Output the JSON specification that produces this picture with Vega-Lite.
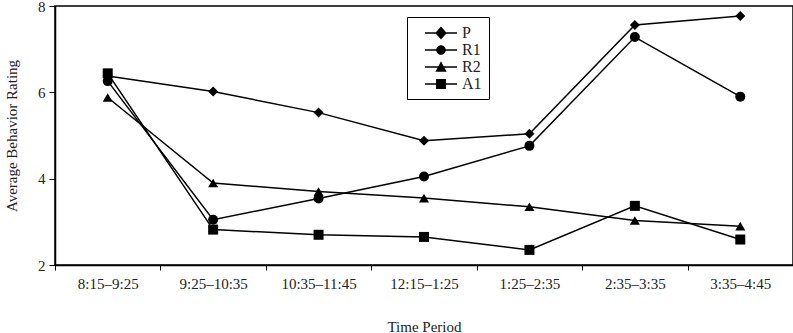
{
  "$schema": "https://vega.github.io/schema/vega-lite/v6.json",
  "width": 738,
  "height": 259,
  "autosize": "none",
  "padding": {"left": 55, "top": 6, "right": 0, "bottom": 68},
  "background": "white",
  "config": {
    "font": "Liberation Serif",
    "view": {"stroke": "black", "strokeWidth": 1.5},
    "axis": {
      "grid": false,
      "domainColor": "black",
      "domainWidth": 1.5,
      "tickColor": "black",
      "tickWidth": 1,
      "labelColor": "#222",
      "titleColor": "#222",
      "labelFont": "Liberation Serif",
      "titleFont": "Liberation Serif",
      "labelFontSize": 15,
      "titleFontSize": 15,
      "titleFontWeight": "normal"
    }
  },
  "data": {
    "values": [
      {"period": "8:15–9:25", "series": "P", "rating": 6.38},
      {"period": "9:25–10:35", "series": "P", "rating": 6.02},
      {"period": "10:35–11:45", "series": "P", "rating": 5.53},
      {"period": "12:15–1:25", "series": "P", "rating": 4.88},
      {"period": "1:25–2:35", "series": "P", "rating": 5.04},
      {"period": "2:35–3:35", "series": "P", "rating": 7.56},
      {"period": "3:35–4:45", "series": "P", "rating": 7.77},
      {"period": "8:15–9:25", "series": "R1", "rating": 6.26},
      {"period": "9:25–10:35", "series": "R1", "rating": 3.05},
      {"period": "10:35–11:45", "series": "R1", "rating": 3.54},
      {"period": "12:15–1:25", "series": "R1", "rating": 4.05},
      {"period": "1:25–2:35", "series": "R1", "rating": 4.76},
      {"period": "2:35–3:35", "series": "R1", "rating": 7.28},
      {"period": "3:35–4:45", "series": "R1", "rating": 5.9},
      {"period": "8:15–9:25", "series": "R2", "rating": 5.88},
      {"period": "9:25–10:35", "series": "R2", "rating": 3.9},
      {"period": "10:35–11:45", "series": "R2", "rating": 3.7},
      {"period": "12:15–1:25", "series": "R2", "rating": 3.55},
      {"period": "1:25–2:35", "series": "R2", "rating": 3.35},
      {"period": "2:35–3:35", "series": "R2", "rating": 3.03},
      {"period": "3:35–4:45", "series": "R2", "rating": 2.9},
      {"period": "8:15–9:25", "series": "A1", "rating": 6.44},
      {"period": "9:25–10:35", "series": "A1", "rating": 2.82},
      {"period": "10:35–11:45", "series": "A1", "rating": 2.7},
      {"period": "12:15–1:25", "series": "A1", "rating": 2.65},
      {"period": "1:25–2:35", "series": "A1", "rating": 2.35},
      {"period": "2:35–3:35", "series": "A1", "rating": 3.37},
      {"period": "3:35–4:45", "series": "A1", "rating": 2.59}
    ]
  },
  "encoding": {
    "x": {
      "field": "period",
      "type": "ordinal",
      "sort": ["8:15–9:25", "9:25–10:35", "10:35–11:45", "12:15–1:25", "1:25–2:35", "2:35–3:35", "3:35–4:45"],
      "scale": {"type": "band", "paddingInner": 0, "paddingOuter": 0},
      "axis": {"title": "Time Period", "labelAngle": 0, "tickBand": "extent", "tickSize": 5, "labelPadding": 6, "titlePadding": 28}
    },
    "y": {
      "field": "rating",
      "type": "quantitative",
      "scale": {"domain": [2, 8], "nice": false, "zero": false},
      "axis": {"title": "Average Behavior Rating", "values": [2, 4, 6, 8], "tickSize": 6, "labelPadding": 4, "titlePadding": 18}
    }
  },
  "layer": [
    {
      "mark": {"type": "line", "color": "black", "strokeWidth": 1.5},
      "encoding": {"detail": {"field": "series"}}
    },
    {
      "mark": {"type": "point", "filled": true, "color": "black", "opacity": 1, "size": 100},
      "encoding": {
        "shape": {
          "field": "series",
          "type": "nominal",
          "scale": {"domain": ["P", "R1", "R2", "A1"], "range": ["diamond", "circle", "triangle-up", "square"]},
          "legend": null
        }
      }
    },
    {
      "mark": {"type": "point", "filled": true, "color": "black", "opacity": 0, "size": 324},
      "encoding": {
        "shape": {
          "field": "series",
          "type": "nominal",
          "scale": {
            "domain": ["P", "R1", "R2", "A1"],
            "range": [
              "M0.22,-0.083H3.78V0.083H0.22ZM2,-0.71L2.64,0L2,0.71L1.36,0Z",
              "M0.22,-0.083H3.78V0.083H0.22ZM2.53,0A0.53,0.53,0,1,1,1.47,0A0.53,0.53,0,1,1,2.53,0Z",
              "M0.22,-0.083H3.78V0.083H0.22ZM2,-0.64L2.62,0.53L1.38,0.53Z",
              "M0.22,-0.083H3.78V0.083H0.22ZM1.45,-0.55H2.55V0.55H1.45Z"
            ]
          },
          "legend": {
            "title": null,
            "orient": "none",
            "legendX": 352,
            "legendY": 11,
            "strokeColor": "black",
            "padding": 7,
            "symbolSize": 324,
            "symbolOpacity": 1,
            "symbolFillColor": "black",
            "symbolStrokeWidth": 0,
            "labelFontSize": 16,
            "labelColor": "#222",
            "labelOffset": 30,
            "rowPadding": 0
          }
        }
      }
    }
  ],
  "resolve": {"scale": {"shape": "independent"}, "legend": {"shape": "independent"}}
}
